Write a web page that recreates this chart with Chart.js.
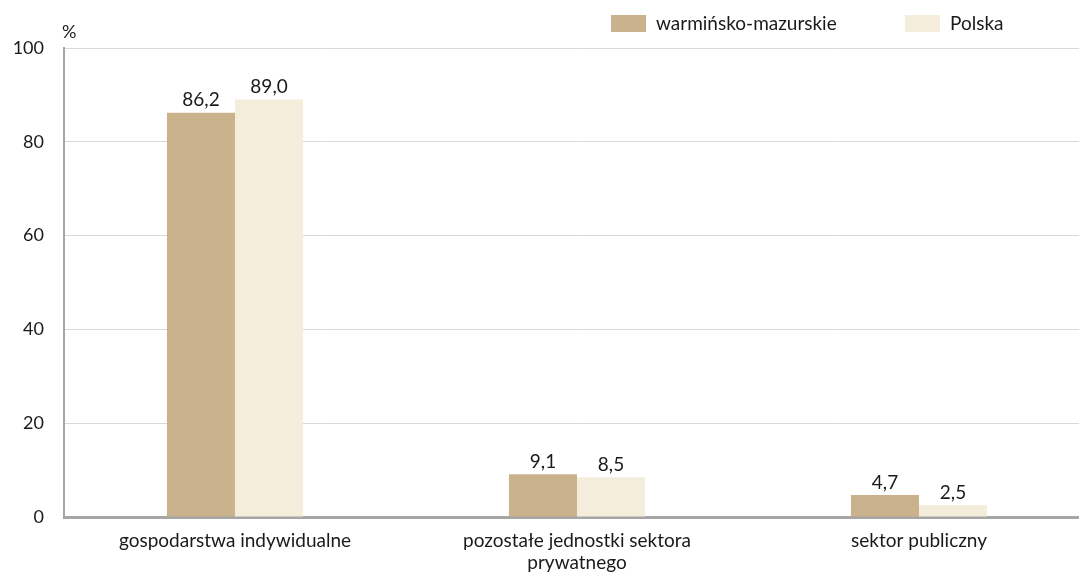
<!DOCTYPE html>
<html>
<head>
<meta charset="utf-8">
<script src="https://cdn.jsdelivr.net/npm/chart.js@4"></script>
<style>
  html, body { margin: 0; padding: 0; background: #ffffff; overflow: hidden; }
  #frame { width: 1079px; height: 574px; overflow: hidden; }
  /* the plot runs a little past the right edge of the picture */
  #wrap { width: 1090px; height: 574px; position: relative; }
</style>
</head>
<body>
<div id="frame"><div id="wrap"><canvas id="chart"></canvas></div></div>
<script>
// Data
const categories = [
    'gospodarstwa indywidualne',
    ['pozostałe jednostki sektora', 'prywatnego'],
    'sektor publiczny'
];
const seriesNames = ['warmińsko-mazurskie', 'Polska'];
const regionValues = [86.2, 9.1, 4.7];
const polandValues = [89.0, 8.5, 2.5];
const yTicks = [0, 20, 40, 60, 80, 100];

const colors = ['#c9b28c', '#f4eddb'];
const FONT = "'Lato', sans-serif";

Chart.defaults.font.family = FONT;
Chart.defaults.font.size = 19;
Chart.defaults.color = '#1a1a1a';

// values over bars, with decimal comma
const valueLabels = {
    id: 'valueLabels',
    afterDatasetsDraw(chart) {
        const c = chart.ctx;
        c.save();
        c.font = '19px ' + FONT;
        c.fillStyle = '#1a1a1a';
        c.textAlign = 'center';
        c.textBaseline = 'bottom';
        chart.data.datasets.forEach((ds, i) => {
            chart.getDatasetMeta(i).data.forEach((bar, j) => {
                c.fillText(ds.data[j].toFixed(1).replace('.', ','), bar.x, bar.y - 3);
            });
        });
        c.restore();
    }
};

// "%" unit over the y axis + legend drawn at the top right
const extras = {
    id: 'extras',
    afterDraw(chart) {
        const c = chart.ctx;
        const area = chart.chartArea;
        c.save();
        c.font = '18px ' + FONT;
        c.fillStyle = '#1a1a1a';
        c.textBaseline = 'middle';
        c.textAlign = 'left';
        c.fillText('%', area.left - 2, area.top - 16);

        c.font = '19px ' + FONT;
        const legendX = [611, 905];
        chart.data.datasets.forEach((ds, i) => {
            c.fillStyle = ds.backgroundColor;
            c.fillRect(legendX[i], 15, 35, 17);
            c.fillStyle = '#1a1a1a';
            c.fillText(ds.label, legendX[i] + 45, 24);
        });
        c.restore();
    }
};

new Chart(document.getElementById('chart'), {
    type: 'bar',
    data: {
        labels: categories,
        datasets: [
            { label: seriesNames[0], data: regionValues, backgroundColor: colors[0] },
            { label: seriesNames[1], data: polandValues, backgroundColor: colors[1] }
        ]
    },
    options: {
        responsive: true,
        maintainAspectRatio: false,
        animation: false,
        layout: { padding: { top: 48, right: 0, left: 0, bottom: 0 } },
        plugins: {
            legend: { display: false },
            tooltip: { enabled: false }
        },
        datasets: { bar: { categoryPercentage: 0.398, barPercentage: 1 } },
        scales: {
            x: {
                grid: { display: false },
                border: { color: '#a6a6a6', width: 3 },
                ticks: { padding: 4, maxRotation: 0, autoSkip: false },
                afterFit(scale) { scale.height = 57; }
            },
            y: {
                min: 0,
                max: 100,
                afterBuildTicks(scale) { scale.ticks = yTicks.map(v => ({ value: v })); },
                grid: { color: '#d9d9d9', drawTicks: false },
                border: { color: '#a6a6a6', width: 2 },
                ticks: { padding: 20, font: { size: 18 } },
                afterFit(scale) { scale.width = 64; }
            }
        }
    },
    plugins: [valueLabels, extras]
});
</script>
</body>
</html>
